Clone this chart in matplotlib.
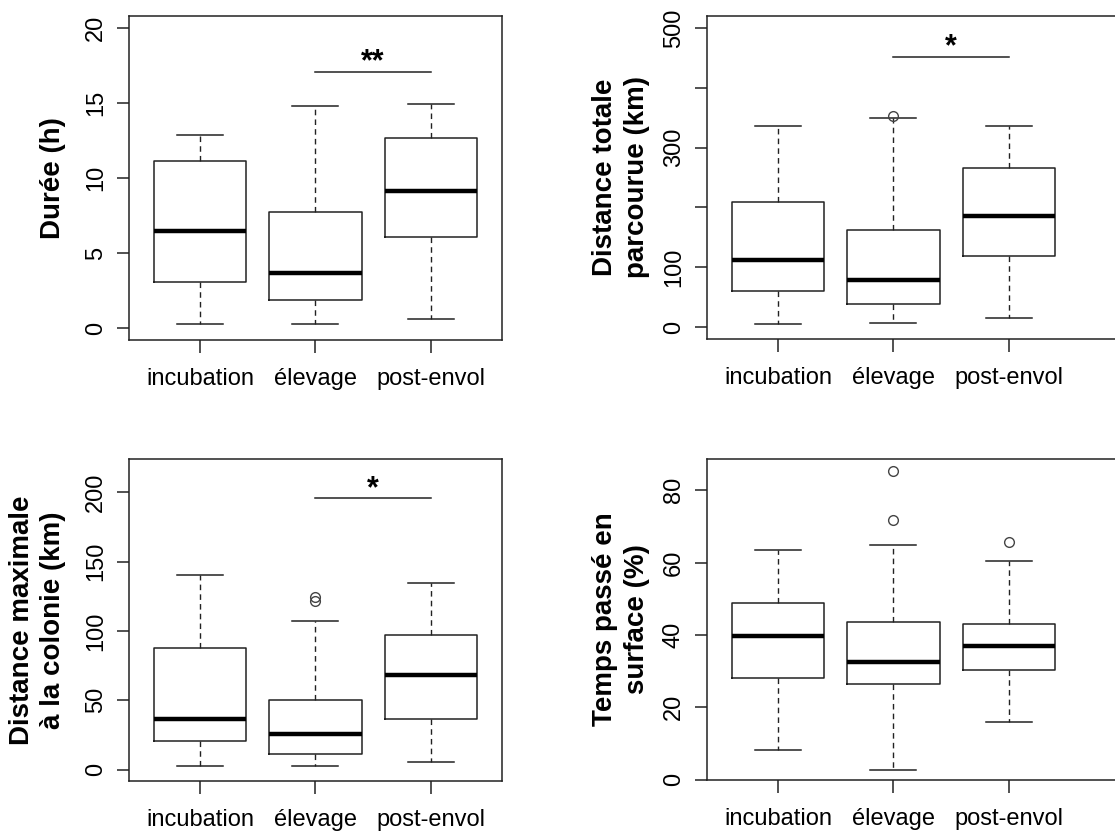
import matplotlib
matplotlib.use('Agg')
import matplotlib.pyplot as plt

plt.rcParams['font.family'] = ['Liberation Sans', 'DejaVu Sans']

groups = ['incubation', 'élevage', 'post-envol']

# Durée (h)
dur_lo = [0.29, 0.29, 0.62]
dur_q1 = [3.04, 1.88, 6.09]
dur_med = [6.5, 3.65, 9.13]
dur_q3 = [11.14, 7.76, 12.66]
dur_hi = [12.89, 14.83, 14.92]
dur_fliers = [[], [], []]

# Distance totale parcourue (km)
dist_lo = [4.5, 6.7, 14.6]
dist_q1 = [59.5, 38.2, 118.4]
dist_med = [111.6, 78.0, 185.6]
dist_q3 = [209.0, 162.6, 265.2]
dist_hi = [335.8, 348.7, 335.8]
dist_fliers = [[], [353.0], []]

# Distance maximale à la colonie (km)
dmax_lo = [2.7, 2.7, 5.6]
dmax_q1 = [20.7, 11.1, 36.4]
dmax_med = [36.4, 25.5, 67.9]
dmax_q3 = [87.9, 50.5, 96.8]
dmax_hi = [140.3, 106.9, 134.8]
dmax_fliers = [[], [121.3, 124.5], []]

# Temps passé en surface (%)
temps_lo = [8.3, 2.8, 15.9]
temps_q1 = [28.1, 26.3, 30.2]
temps_med = [39.8, 32.6, 37.0]
temps_q3 = [48.8, 43.6, 42.9]
temps_hi = [63.4, 64.7, 60.3]
temps_fliers = [[], [71.7, 85.3], [65.8]]

W, H = 1115, 839
fig = plt.figure(figsize=(W / 100, H / 100), dpi=100)
fig.patch.set_facecolor('white')

PX_PER_UNIT = 115.1
DARK = '#222222'


def add_panel(left, right, top, bottom):
    ax = fig.add_axes([left / W, 1 - bottom / H, (right - left) / W, (bottom - top) / H])
    ax.set_xlim(0.38, 0.38 + (right - left) / PX_PER_UNIT)
    return ax


def draw(ax, lo, q1, med, q3, hi, fliers, ylim, yticks, ylabels, label, label_x, sig=None):
    stats = []
    for i in range(3):
        stats.append(dict(whislo=lo[i], q1=q1[i], med=med[i], q3=q3[i],
                          whishi=hi[i], fliers=fliers[i]))
    ax.bxp(stats, positions=[1, 2, 3], widths=0.8, capwidths=0.4,
           boxprops=dict(color=DARK, linewidth=1.1),
           medianprops=dict(color='black', linewidth=3.2),
           whiskerprops=dict(color=DARK, linewidth=1.0, linestyle=(0, (4, 3))),
           capprops=dict(color=DARK, linewidth=1.1),
           flierprops=dict(marker='o', markerfacecolor='none',
                           markeredgecolor='#444444', markersize=7, markeredgewidth=1.0))
    ax.set_ylim(*ylim)
    ax.set_yticks(yticks)
    ax.set_yticklabels(ylabels, rotation=90, va='center', fontsize=17)
    ax.set_xticks([1, 2, 3])
    ax.set_xticklabels(groups, fontsize=17)
    ax.tick_params(axis='both', length=9, width=1.1, color=DARK)
    ax.tick_params(axis='y', pad=7)
    ax.tick_params(axis='x', pad=11)
    for s in ax.spines.values():
        s.set_color(DARK)
        s.set_linewidth(1.1)
    p = ax.get_position()
    fig.text(label_x / W, p.y0 + p.height / 2, label, rotation=90, ha='center',
             va='center', fontsize=20, fontweight='bold', linespacing=1.25,
             multialignment='center')
    if sig is not None:
        y_line, y_text, stars = sig
        ax.plot([2, 3], [y_line, y_line], color=DARK, linewidth=1.1)
        ax.text(2.5, y_text, stars, ha='center', va='center', fontsize=22,
                fontweight='bold')


ax1 = add_panel(129, 502, 16, 340)
draw(ax1, dur_lo, dur_q1, dur_med, dur_q3, dur_hi, dur_fliers,
     (-0.8, 20.8), [0, 5, 10, 15, 20], ['0', '5', '10', '15', '20'],
     'Durée (h)', 53, sig=(17.05, 17.7, '**'))

ax2 = add_panel(707, 1130, 16, 339)
draw(ax2, dist_lo, dist_q1, dist_med, dist_q3, dist_hi, dist_fliers,
     (-20, 520), [0, 100, 200, 300, 400, 500], ['0', '100', '', '300', '', '500'],
     'Distance totale\nparcourue (km)', 621, sig=(451, 468, '*'))

ax3 = add_panel(129, 502, 459, 781)
draw(ax3, dmax_lo, dmax_q1, dmax_med, dmax_q3, dmax_hi, dmax_fliers,
     (-8.2, 224), [0, 50, 100, 150, 200], ['0', '50', '100', '150', '200'],
     'Distance maximale\nà la colonie (km)', 38, sig=(195.7, 202, '*'))

ax4 = add_panel(707, 1130, 459, 780)
draw(ax4, temps_lo, temps_q1, temps_med, temps_q3, temps_hi, temps_fliers,
     (-0.1, 88.6), [0, 20, 40, 60, 80], ['0', '20', '40', '60', '80'],
     'Temps passé en\nsurface (%)', 621)

fig.savefig('out.png', dpi=100)
